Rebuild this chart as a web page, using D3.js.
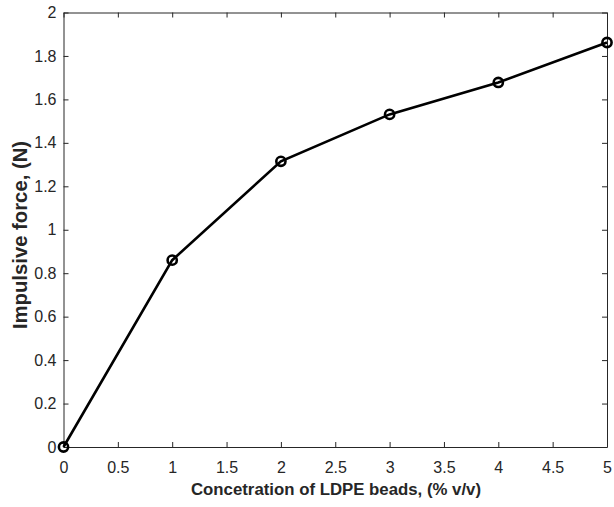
<!DOCTYPE html>
<html><head><meta charset="utf-8">
<script src="https://cdn.jsdelivr.net/npm/d3@7"></script>
<style>body{margin:0;background:#fff;}svg{display:block;font-family:"Liberation Sans",Arial,sans-serif;}</style>
</head><body>
<script>
const concentration = [0, 1, 2, 3, 4, 5];
const force = [0, 0.86, 1.315, 1.531, 1.678, 1.862];
const xTicks = [0, 0.5, 1, 1.5, 2, 2.5, 3, 3.5, 4, 4.5, 5];
const yTicks = [0, 0.2, 0.4, 0.6, 0.8, 1, 1.2, 1.4, 1.6, 1.8, 2];
const xLabel = "Concetration of LDPE beads, (% v/v)";
const yLabel = "Impulsive force, (N)";

const W = 614, H = 507;
const m = {left: 63.5, right: 7, top: 12.5, bottom: 60};
const svg = d3.select("body").append("svg").attr("width", W).attr("height", H);
const x = d3.scaleLinear().domain([0, 5]).range([m.left, W - m.right]);
const y = d3.scaleLinear().domain([0, 2]).range([H - m.bottom, m.top]);
const axisColor = "#262626";
const fmt = d => String(d);

function styleAxis(g){
  g.select(".domain").attr("stroke", axisColor).attr("stroke-width", 1);
  g.selectAll(".tick line").attr("stroke", axisColor);
  g.selectAll(".tick text").attr("fill", axisColor).style("font-size", "16px");
}
// bottom
svg.append("g").attr("transform", `translate(0,${y(0)})`)
  .call(d3.axisBottom(x).tickValues(xTicks).tickFormat(fmt).tickSizeInner(-5).tickSizeOuter(0).tickPadding(14.5))
  .call(styleAxis);
// top
svg.append("g").attr("transform", `translate(0,${y(2)})`)
  .call(d3.axisTop(x).tickValues(xTicks).tickFormat("").tickSizeInner(-5).tickSizeOuter(0))
  .call(styleAxis);
// left
svg.append("g").attr("transform", `translate(${x(0)},0)`)
  .call(d3.axisLeft(y).tickValues(yTicks).tickFormat(fmt).tickSizeInner(-5).tickSizeOuter(0).tickPadding(7))
  .call(styleAxis);
// right
svg.append("g").attr("transform", `translate(${x(5)},0)`)
  .call(d3.axisRight(y).tickValues(yTicks).tickFormat("").tickSizeInner(-5).tickSizeOuter(0))
  .call(styleAxis);

const pts = concentration.map((c, i) => [c, force[i]]);
svg.append("path").datum(pts)
  .attr("fill", "none").attr("stroke", "#000").attr("stroke-width", 2.6)
  .attr("d", d3.line().x(d => x(d[0])).y(d => y(d[1])));
svg.selectAll("circle.pt").data(pts).enter().append("circle")
  .attr("class", "pt")
  .attr("cx", d => x(d[0])).attr("cy", d => y(d[1])).attr("r", 4.6)
  .attr("fill", "none").attr("stroke", "#000").attr("stroke-width", 2.6);

svg.append("text").attr("x", 336).attr("y", 495)
  .attr("text-anchor", "middle").attr("font-weight", "bold").style("font-size", "16.8px")
  .attr("fill", axisColor).text(xLabel);
svg.append("text").attr("transform", `translate(27,235) rotate(-90)`)
  .attr("text-anchor", "middle").attr("font-weight", "bold").style("font-size", "20.3px")
  .attr("fill", axisColor).text(yLabel);
</script>
</body></html>
